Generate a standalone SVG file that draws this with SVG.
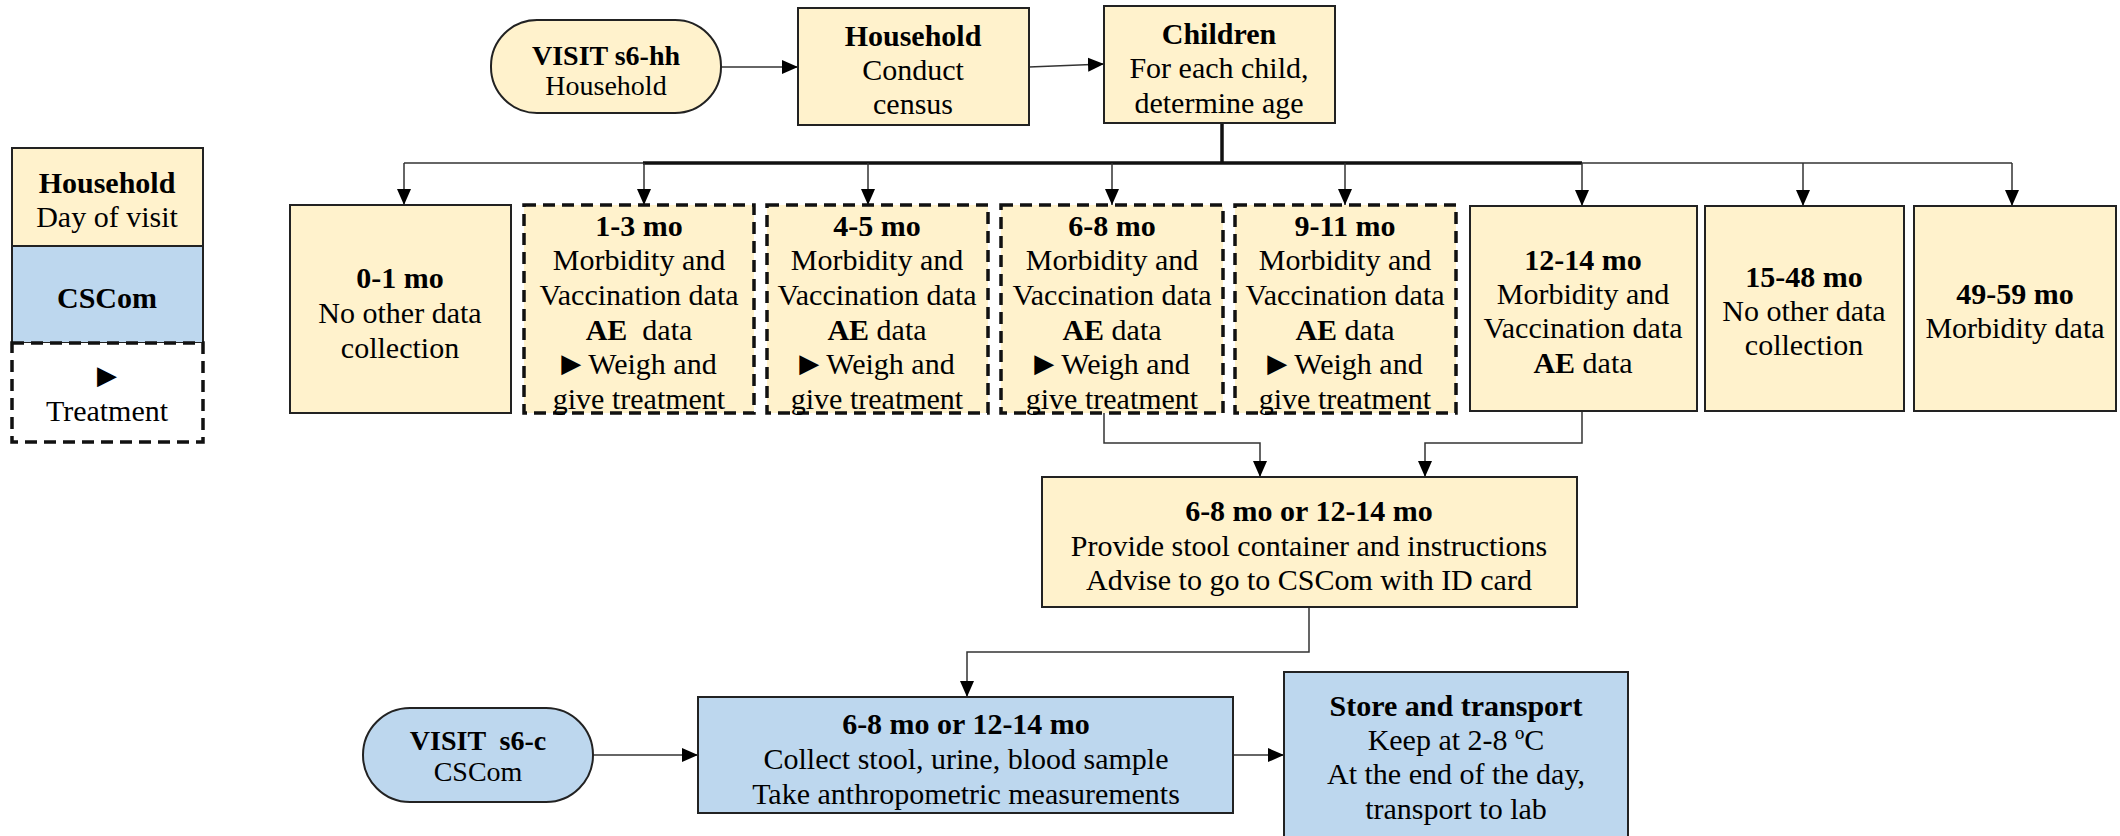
<svg xmlns="http://www.w3.org/2000/svg" width="2120" height="836" viewBox="0 0 2120 836">
<style>
text{font-family:"Liberation Serif","Times New Roman",serif;font-size:30px;fill:#000;text-anchor:middle;dominant-baseline:central}
.b{font-weight:bold}
.p{font-size:28px}
.tri{font-family:"DejaVu Sans",sans-serif;font-size:26px}
.hh{fill:#FFF2CC;stroke:#222;stroke-width:2}
.cs{fill:#BDD7EE;stroke:#222;stroke-width:2}
.dash{fill:#FFF2CC;stroke:#111;stroke-width:3.5;stroke-dasharray:12 7}
.dashw{fill:#fff;stroke:#111;stroke-width:3.5;stroke-dasharray:12 7}
.c{fill:none;stroke:#333;stroke-width:1.5}
.ca{fill:none;stroke:#333;stroke-width:1.5;marker-end:url(#ah)}
.thick{fill:none;stroke:#111;stroke-width:3.5}
</style>
<defs>
<marker id="ah" markerUnits="userSpaceOnUse" markerWidth="16" markerHeight="16" viewBox="0 0 16 16" refX="16" refY="8" orient="auto">
<path d="M0,1 L16,8 L0,15 Z" fill="#000"/>
</marker>
</defs>
<rect width="2120" height="836" fill="#fff"/>

<g id="connectors">
<path class="ca" d="M721,67 L798,67"/>
<path class="ca" d="M1029,67 L1104,64"/>
<path class="thick" d="M1222,123 L1222,163"/>
<path class="c" d="M404,163 L643,163"/>
<path class="thick" d="M643,163 L1582,163"/>
<path class="c" d="M1582,163 L2012,163"/>
<path class="ca" d="M404,163 L404,205"/>
<path class="ca" d="M644,163 L644,205"/>
<path class="ca" d="M868,163 L868,205"/>
<path class="ca" d="M1112,163 L1112,205"/>
<path class="ca" d="M1345,163 L1345,205"/>
<path class="ca" d="M1582,163 L1582,206"/>
<path class="ca" d="M1803,163 L1803,206"/>
<path class="ca" d="M2012,163 L2012,206"/>
<path class="ca" d="M1104,413 L1104,443 L1260,443 L1260,477"/>
<path class="ca" d="M1582,411 L1582,443 L1425,443 L1425,477"/>
<path class="ca" d="M1309,607 L1309,652 L967,652 L967,697"/>
<path class="ca" d="M593,755 L698,755"/>
<path class="ca" d="M1233,755 L1284,755"/>
</g>

<g id="legend">
<rect class="hh" x="12" y="148" width="191" height="98"/>
<text class="b" x="107" y="182">Household</text>
<text x="107" y="216">Day of visit</text>
<rect class="cs" x="12" y="246" width="191" height="97"/>
<text class="b" x="107" y="297">CSCom</text>
<rect class="dashw" x="12" y="343" width="191" height="99"/>
<text class="tri" x="107" y="375">▶</text>
<text x="107" y="410">Treatment</text>
</g>

<g id="visit-hh">
<rect class="hh" x="491" y="20" width="230" height="93" rx="46" ry="46"/>
<text class="b p" x="606" y="55">VISIT s6-hh</text>
<text class="p" x="606" y="85">Household</text>
</g>

<g id="household">
<rect class="hh" x="798" y="8" width="231" height="117"/>
<text class="b" x="913" y="35">Household</text>
<text x="913" y="69">Conduct</text>
<text x="913" y="103">census</text>
</g>

<g id="children">
<rect class="hh" x="1104" y="6" width="231" height="117"/>
<text class="b" x="1219" y="33">Children</text>
<text x="1219" y="67">For each child,</text>
<text x="1219" y="102">determine age</text>
</g>

<g id="age-0-1">
<rect class="hh" x="290" y="205" width="221" height="208"/>
<text class="b" x="400" y="277">0-1 mo</text>
<text x="400" y="312">No other data</text>
<text x="400" y="347">collection</text>
</g>

<g id="age-1-3">
<rect class="dash" x="524" y="205" width="230" height="208"/>
<text class="b" x="639" y="225">1-3 mo</text>
<text x="639" y="259">Morbidity and</text>
<text x="639" y="294">Vaccination data</text>
<text x="639" y="329" xml:space="preserve"><tspan class="b">AE</tspan>  data</text>
<text x="639" y="363"><tspan class="tri">▶</tspan> Weigh and</text>
<text x="639" y="398">give treatment</text>
</g>

<g id="age-4-5">
<rect class="dash" x="767" y="205" width="221" height="208"/>
<text class="b" x="877" y="225">4-5 mo</text>
<text x="877" y="259">Morbidity and</text>
<text x="877" y="294">Vaccination data</text>
<text x="877" y="329"><tspan class="b">AE</tspan> data</text>
<text x="877" y="363"><tspan class="tri">▶</tspan> Weigh and</text>
<text x="877" y="398">give treatment</text>
</g>

<g id="age-6-8">
<rect class="dash" x="1001" y="205" width="222" height="208"/>
<text class="b" x="1112" y="225">6-8 mo</text>
<text x="1112" y="259">Morbidity and</text>
<text x="1112" y="294">Vaccination data</text>
<text x="1112" y="329"><tspan class="b">AE</tspan> data</text>
<text x="1112" y="363"><tspan class="tri">▶</tspan> Weigh and</text>
<text x="1112" y="398">give treatment</text>
</g>

<g id="age-9-11">
<rect class="dash" x="1235" y="205" width="221" height="208"/>
<text class="b" x="1345" y="225">9-11 mo</text>
<text x="1345" y="259">Morbidity and</text>
<text x="1345" y="294">Vaccination data</text>
<text x="1345" y="329"><tspan class="b">AE</tspan> data</text>
<text x="1345" y="363"><tspan class="tri">▶</tspan> Weigh and</text>
<text x="1345" y="398">give treatment</text>
</g>

<g id="age-12-14">
<rect class="hh" x="1470" y="206" width="227" height="205"/>
<text class="b" x="1583" y="259">12-14 mo</text>
<text x="1583" y="293">Morbidity and</text>
<text x="1583" y="327">Vaccination data</text>
<text x="1583" y="362"><tspan class="b">AE</tspan> data</text>
</g>

<g id="age-15-48">
<rect class="hh" x="1705" y="206" width="199" height="205"/>
<text class="b" x="1804" y="276">15-48 mo</text>
<text x="1804" y="310">No other data</text>
<text x="1804" y="344">collection</text>
</g>

<g id="age-49-59">
<rect class="hh" x="1914" y="206" width="202" height="205"/>
<text class="b" x="2015" y="293">49-59 mo</text>
<text x="2015" y="327">Morbidity data</text>
</g>

<g id="stool-instructions">
<rect class="hh" x="1042" y="477" width="535" height="130"/>
<text class="b" x="1309" y="510">6-8 mo or 12-14 mo</text>
<text x="1309" y="545">Provide stool container and instructions</text>
<text x="1309" y="579">Advise to go to CSCom with ID card</text>
</g>

<g id="visit-c">
<rect class="cs" x="363" y="708" width="230" height="94" rx="47" ry="47"/>
<text class="b p" x="478" y="740" xml:space="preserve">VISIT  s6-c</text>
<text class="p" x="478" y="771">CSCom</text>
</g>

<g id="collect">
<rect class="cs" x="698" y="697" width="535" height="116"/>
<text class="b" x="966" y="723">6-8 mo or 12-14 mo</text>
<text x="966" y="758">Collect stool, urine, blood sample</text>
<text x="966" y="793">Take anthropometric measurements</text>
</g>

<g id="store">
<rect class="cs" x="1284" y="672" width="344" height="175"/>
<text class="b" x="1456" y="705">Store and transport</text>
<text x="1456" y="739">Keep at 2-8 ºC</text>
<text x="1456" y="773">At the end of the day,</text>
<text x="1456" y="808">transport to lab</text>
</g>
</svg>
